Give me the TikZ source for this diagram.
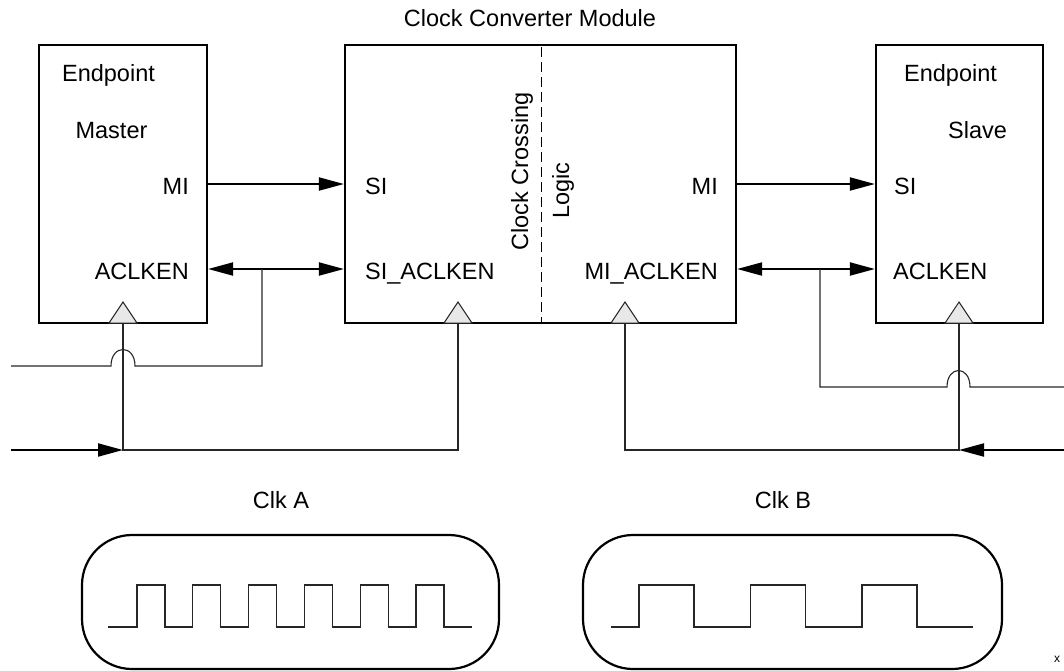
\documentclass[tikz,border=0pt]{standalone}
\usepackage{fontspec}
\setmainfont{Liberation Sans}
\usetikzlibrary{arrows.meta}
\tikzset{
  blk/.style={draw, line width=2.2pt, minimum height=278pt, inner sep=0pt},
  lbl/.style={inner sep=0pt, font=\fontsize{23.5}{28}\selectfont},
  sig/.style={line width=2pt, -{Triangle[length=25pt,width=13pt]}},
  bisig/.style={line width=2pt, {Triangle[length=25pt,width=13pt]}-{Triangle[length=25pt,width=13pt]}},
  wire/.style={line width=1.1pt, draw=black!85},
  clkin/.style={draw=black!85, line width=1pt, fill=black!9},
  clkbox/.style={draw, line width=2.2pt, rounded corners=50pt, minimum width=417pt, minimum height=134pt, inner sep=0pt},
  wave/.style={line width=1.1pt, draw=black!85},
}
\begin{document}
\begin{tikzpicture}[x=1pt,y=-1pt]
\useasboundingbox (0,0) rectangle (1064,670);

% blocks
\node[blk, minimum width=168pt] (master) at (123,184) {};
\node[blk, minimum width=391pt] (conv) at (540.5,184) {};
\node[blk, minimum width=167pt] (slave) at (959.5,184) {};
\draw[line width=1pt, dash pattern=on 10pt off 5pt] (541,47) -- (541,322);

% labels
\node[lbl] (title) at (530,18) {Clock Converter Module};
\node[lbl, anchor=base] (mep) at (108.5,81) {Endpoint};
\node[lbl, anchor=base] (mst) at (111.5,138) {Master};
\node[lbl, anchor=base east] (mmi) at (189,194) {MI};
\node[lbl, anchor=base east] (mack) at (189,279) {ACLKEN};
\node[lbl, anchor=base west] (csi) at (365,194) {SI};
\node[lbl, anchor=base west] (csiack) at (365,279) {SI\_ACLKEN};
\node[lbl, anchor=base east] (cmi) at (718,194) {MI};
\node[lbl, anchor=base east] (cmiack) at (718,279) {MI\_ACLKEN};
\node[lbl, rotate=90, anchor=base] (ccl) at (528,171.5) {Clock Crossing};
\node[lbl, rotate=90, anchor=base] (lgc) at (569,190.5) {Logic};
\node[lbl, anchor=base] (sep) at (950.5,81) {Endpoint};
\node[lbl, anchor=base] (ssl) at (977.5,138) {Slave};
\node[lbl, anchor=base west] (ssi) at (894,194) {SI};
\node[lbl, anchor=base west] (sack) at (893,279) {ACLKEN};
\node[lbl, anchor=base] (clka) at (281,508) {Clk A};
\node[lbl, anchor=base] (clkb) at (783,508) {Clk B};
\node[inner sep=0pt, anchor=base west, font=\fontsize{12}{14}\selectfont] (fid) at (1054,662) {x};

% clock input triangles
\coordinate (mclk) at (123,323);
\coordinate (csclk) at (458,323);
\coordinate (cmclk) at (625,323);
\coordinate (sclk) at (959,323);
\foreach \c in {mclk,csclk,cmclk,sclk}{
  \draw[clkin] ([xshift=-14pt]\c) -- ([yshift=21pt]\c) -- ([xshift=14pt]\c) -- cycle;
}

% data connections
\draw[sig] (master.east |- 0,184) -- (conv.west |- 0,184);
\draw[sig] (conv.east |- 0,184) -- (slave.west |- 0,184);
\draw[bisig] (master.east |- 0,269) -- (conv.west |- 0,269);
\draw[bisig] (conv.east |- 0,269) -- (slave.west |- 0,269);

% ACLKEN taps
\coordinate (ja) at (262,269);
\coordinate (jb) at (820,269);
\coordinate (ea) at (11,366);
\coordinate (eb) at (1064,387);
\draw[wire] (ja) |- (135,366) .. controls (135,344) and (111,344) .. (111,366) -- (ea);
\draw[wire] (jb) |- (947,387) .. controls (947,365) and (970,365) .. (970,387) -- (eb);

% clock A distribution
\coordinate (ka) at (123,450);
\coordinate (kain) at (11,450);
\draw[wire] (mclk) -- (ka) -| (csclk);
\draw[sig] (kain) -- (ka);
% clock B distribution
\coordinate (kb) at (959,450);
\coordinate (kbin) at (1064,450);
\draw[wire] (sclk) -- (kb) -| (cmclk);
\draw[sig] (kbin) -- (kb);

% clock waveforms
\node[clkbox] (boxa) at (290.5,602) {};
\node[clkbox, minimum width=419pt] (boxb) at (792.5,602) {};
\draw[wave] (108,627)
  \foreach \i in {0,...,5}{ -- ({137+55.8*\i},627) -- ({137+55.8*\i},585) -- ({165+55.8*\i},585) -- ({165+55.8*\i},627)} -- (472,627);
\draw[wave] (611,627)
  \foreach \i in {0,1,2}{ -- ({639+111.5*\i},627) -- ({639+111.5*\i},585) -- ({694+111.5*\i},585) -- ({694+111.5*\i},627)} -- (973,627);
\end{tikzpicture}
\end{document}
